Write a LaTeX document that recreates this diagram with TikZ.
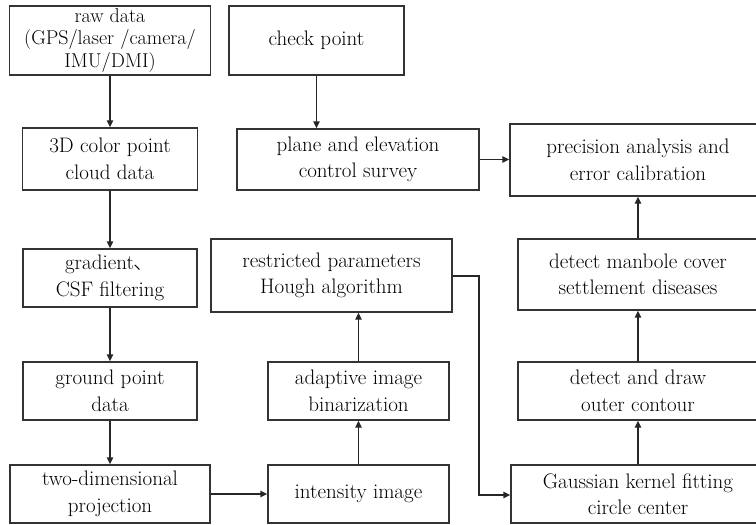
\documentclass[tikz,border=0pt]{standalone}
\usepackage{fontspec}
\setmainfont{Latin Modern Roman}
\newfontfamily\cjk{Noto Sans CJK SC Light}
\usetikzlibrary{arrows.meta}
\begin{document}
\begin{tikzpicture}[x=1pt,y=-1pt,
  box/.style={draw=black!80, line width=1.4pt, rectangle, align=center, inner sep=0pt,
    font=\fontsize{21}{26.5}\selectfont},
  arr/.style={draw=black!85, line width=1.4pt, -{Triangle[length=7pt,width=6.5pt]}}]
\useasboundingbox (0,0) rectangle (756,525);
\clip (0,0) rectangle (756,525);
% column 1
\node[box, minimum width=201pt, minimum height=69pt, font=\fontsize{20}{22.5}\selectfont] (raw) at (110,40.5) {raw data\\(GPS/laser /camera/\\IMU/DMI)};
\node[box, minimum width=175pt, minimum height=62pt] (cloud) at (110,159) {3D color point\\cloud data};
\node[box, minimum width=174pt, minimum height=58pt] (grad) at (110,278) {gradient{\cjk 、}\\CSF filtering};
\node[box, minimum width=174pt, minimum height=58pt] (ground) at (110,391) {ground point\\data};
\node[box, minimum width=200pt, minimum height=58pt] (proj) at (110,494) {two-dimensional\\projection};
% column 2
\node[box, minimum width=175pt, minimum height=69pt] (check) at (316.5,40.5) {check point};
\node[box, minimum width=242pt, minimum height=61pt] (plane) at (358,159.5) {plane and elevation\\control survey};
\node[box, minimum width=241pt, minimum height=73pt] (hough) at (331.5,275.5) {restricted parameters\\Hough algorithm};
\node[box, minimum width=181pt, minimum height=58pt] (bin) at (358.5,391) {adaptive image\\binarization};
\node[box, minimum width=181pt, minimum height=58pt] (inten) at (358.5,494) {intensity image};
% column 3
\node[box, minimum width=256pt, minimum height=72pt] (prec) at (638,160) {precision analysis and\\error calibration};
\node[box, minimum width=240pt, minimum height=71pt] (manh) at (638,274.5) {detect manbole cover\\settlement diseases};
\node[box, minimum width=240pt, minimum height=58pt] (cont) at (638,391) {detect and draw\\outer contour};
\node[box, minimum width=254pt, minimum height=58pt] (gauss) at (638,494) {Gaussian kernel fitting\\circle center};
\coordinate (bend1) at (479,276);
\coordinate (bend2) at (479,495);
% connectors
\draw[arr] (raw.south) -- (raw.south |- cloud.north);
\draw[arr] (cloud.south) -- (cloud.south |- grad.north);
\draw[arr] (grad.south) -- (grad.south |- ground.north);
\draw[arr] (ground.south) -- (ground.south |- proj.north);
\draw[arr] (proj.east) -- (inten.west);
\draw[arr] (inten.north) -- (bin.south);
\draw[arr] (bin.north) -- (bin.north |- hough.south);
\draw[arr] (check.south) -- (check.south |- plane.north);
\draw[arr] (plane.east) -- (plane.east -| prec.west);
\draw[arr] (hough.east |- bend1) -- (bend1) -- (bend2) -- (bend2 -| gauss.west);
\draw[arr] (gauss.north) -- (cont.south);
\draw[arr] (cont.north) -- (manh.south);
\draw[arr] (manh.north) -- (prec.south);
\end{tikzpicture}
\end{document}
